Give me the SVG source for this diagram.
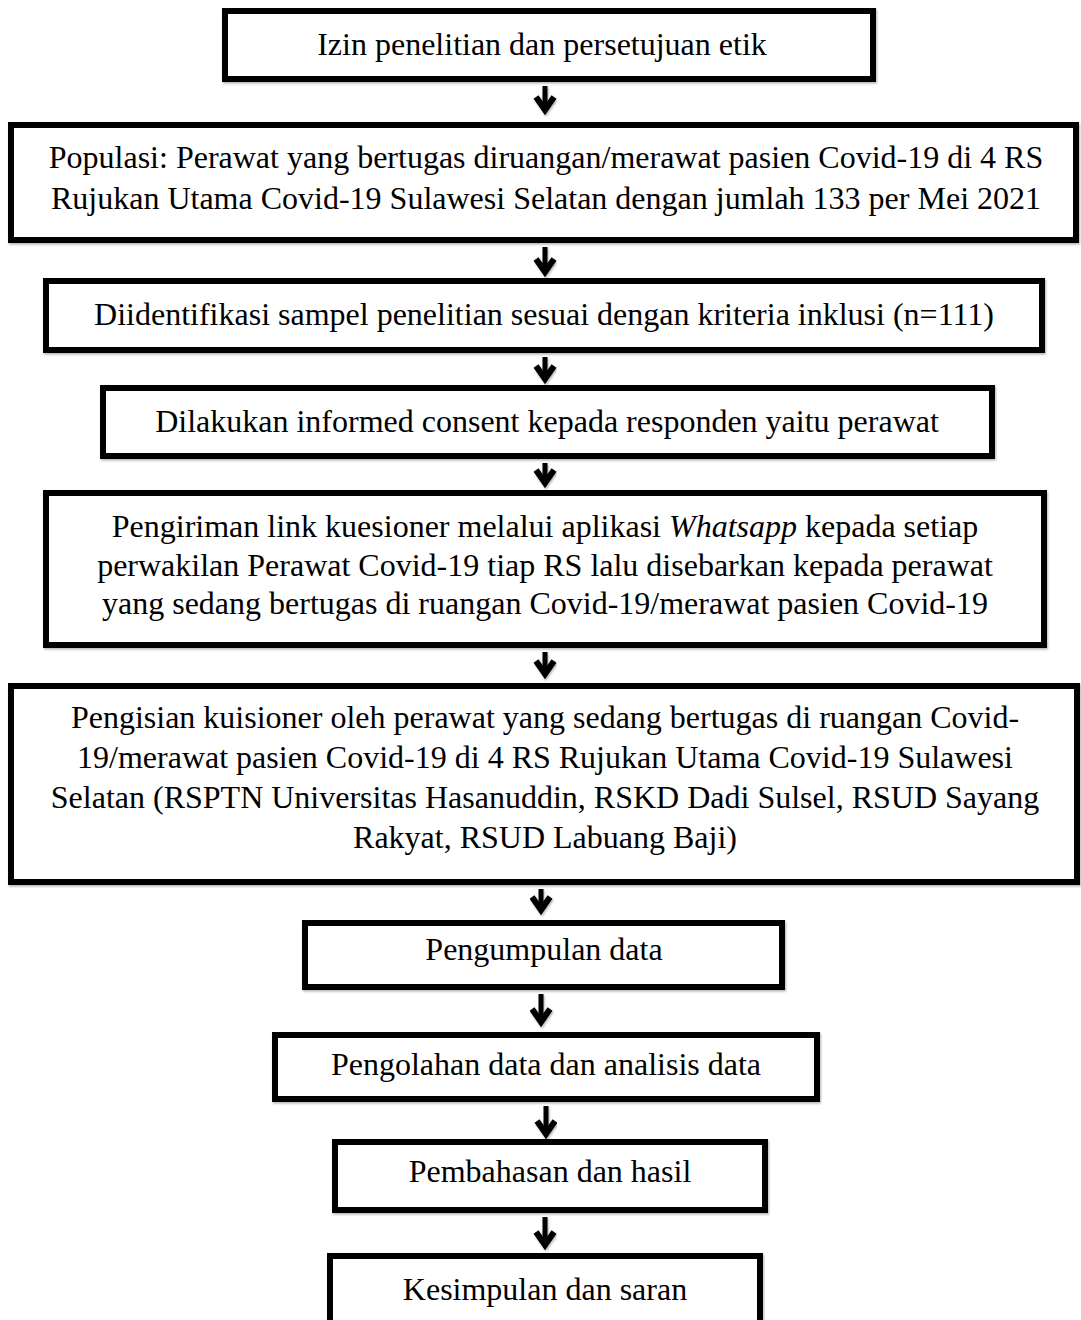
<svg xmlns="http://www.w3.org/2000/svg" width="1081" height="1320" viewBox="0 0 1081 1320">
<style>
.box{fill:#fff;stroke:#000;stroke-width:6;filter:url(#sh)}
.t{font-family:"Liberation Serif","Times New Roman",serif;font-size:32px;fill:#000;text-anchor:middle}
.shaft{stroke:#000;stroke-width:5;fill:none}
.head{stroke:#000;stroke-width:6;fill:none;stroke-linejoin:miter;stroke-linecap:butt}
</style>
<defs>
<filter id="sh" x="-5%" y="-5%" width="110%" height="120%">
<feDropShadow dx="1" dy="1.5" stdDeviation="1" flood-color="#000" flood-opacity="0.3"/>
</filter>
<g id="arrow">
<line class="shaft" x1="0" y1="0" x2="0" y2="-4"/>
<polyline class="head" points="-9,-17 0,-4 9,-17"/>
</g>
</defs>
<rect width="1081" height="1320" fill="#fff"/>
<g id="connectors" filter="url(#sh)">
<g><line class="shaft" x1="545" y1="86" x2="545" y2="110"/><polyline class="head" points="536,97 545,110 554,97"/></g>
<g><line class="shaft" x1="545" y1="247" x2="545" y2="272"/><polyline class="head" points="536,259 545,272 554,259"/></g>
<g><line class="shaft" x1="545" y1="357" x2="545" y2="379"/><polyline class="head" points="536,366 545,379 554,366"/></g>
<g><line class="shaft" x1="545" y1="463" x2="545" y2="483"/><polyline class="head" points="536,470 545,483 554,470"/></g>
<g><line class="shaft" x1="545" y1="652" x2="545" y2="674"/><polyline class="head" points="536,661 545,674 554,661"/></g>
<g><line class="shaft" x1="541" y1="889" x2="541" y2="910"/><polyline class="head" points="532,897 541,910 550,897"/></g>
<g><line class="shaft" x1="541" y1="994" x2="541" y2="1022"/><polyline class="head" points="532,1009 541,1022 550,1009"/></g>
<g><line class="shaft" x1="546" y1="1106" x2="546" y2="1134"/><polyline class="head" points="537,1121 546,1134 555,1121"/></g>
<g><line class="shaft" x1="545" y1="1217" x2="545" y2="1245"/><polyline class="head" points="536,1232 545,1245 554,1232"/></g>
</g>
<g id="n1"><rect class="box" x="225" y="11" width="648" height="68"/><text class="t" x="542" y="55">Izin penelitian dan persetujuan etik</text></g>
<g id="n2"><rect class="box" x="11" y="125" width="1065" height="115"/><text class="t" x="546" y="168">Populasi: Perawat yang bertugas diruangan/merawat pasien Covid-19 di 4 RS</text><text class="t" x="546" y="209">Rujukan Utama Covid-19 Sulawesi Selatan dengan jumlah 133 per Mei 2021</text></g>
<g id="n3"><rect class="box" x="46" y="281" width="996" height="69"/><text class="t" x="544" y="325">Diidentifikasi sampel penelitian sesuai dengan kriteria inklusi (n=111)</text></g>
<g id="n4"><rect class="box" x="103" y="388" width="889" height="68"/><text class="t" x="547" y="432">Dilakukan informed consent kepada responden yaitu perawat</text></g>
<g id="n5"><rect class="box" x="46" y="493" width="998" height="152"/><text class="t" x="545" y="537">Pengiriman link kuesioner melalui aplikasi <tspan font-style="italic">Whatsapp</tspan> kepada setiap</text><text class="t" x="545" y="576">perwakilan Perawat Covid-19 tiap RS lalu disebarkan kepada perawat</text><text class="t" x="545" y="614">yang sedang bertugas di ruangan Covid-19/merawat pasien Covid-19</text></g>
<g id="n6"><rect class="box" x="11" y="686" width="1066" height="196"/><text class="t" x="545" y="728">Pengisian kuisioner oleh perawat yang sedang bertugas di ruangan Covid-</text><text class="t" x="545" y="768">19/merawat pasien Covid-19 di 4 RS Rujukan Utama Covid-19 Sulawesi</text><text class="t" x="545" y="808">Selatan (RSPTN Universitas Hasanuddin, RSKD Dadi Sulsel, RSUD Sayang</text><text class="t" x="545" y="848">Rakyat, RSUD Labuang Baji)</text></g>
<g id="n7"><rect class="box" x="305" y="923" width="477" height="64"/><text class="t" x="544" y="960">Pengumpulan data</text></g>
<g id="n8"><rect class="box" x="275" y="1035" width="542" height="64"/><text class="t" x="546" y="1075">Pengolahan data dan analisis data</text></g>
<g id="n9"><rect class="box" x="335" y="1142" width="430" height="68"/><text class="t" x="550" y="1182">Pembahasan dan hasil</text></g>
<g id="n10"><rect class="box" x="330" y="1256" width="430" height="80"/><text class="t" x="545" y="1300">Kesimpulan dan saran</text></g>
</svg>
